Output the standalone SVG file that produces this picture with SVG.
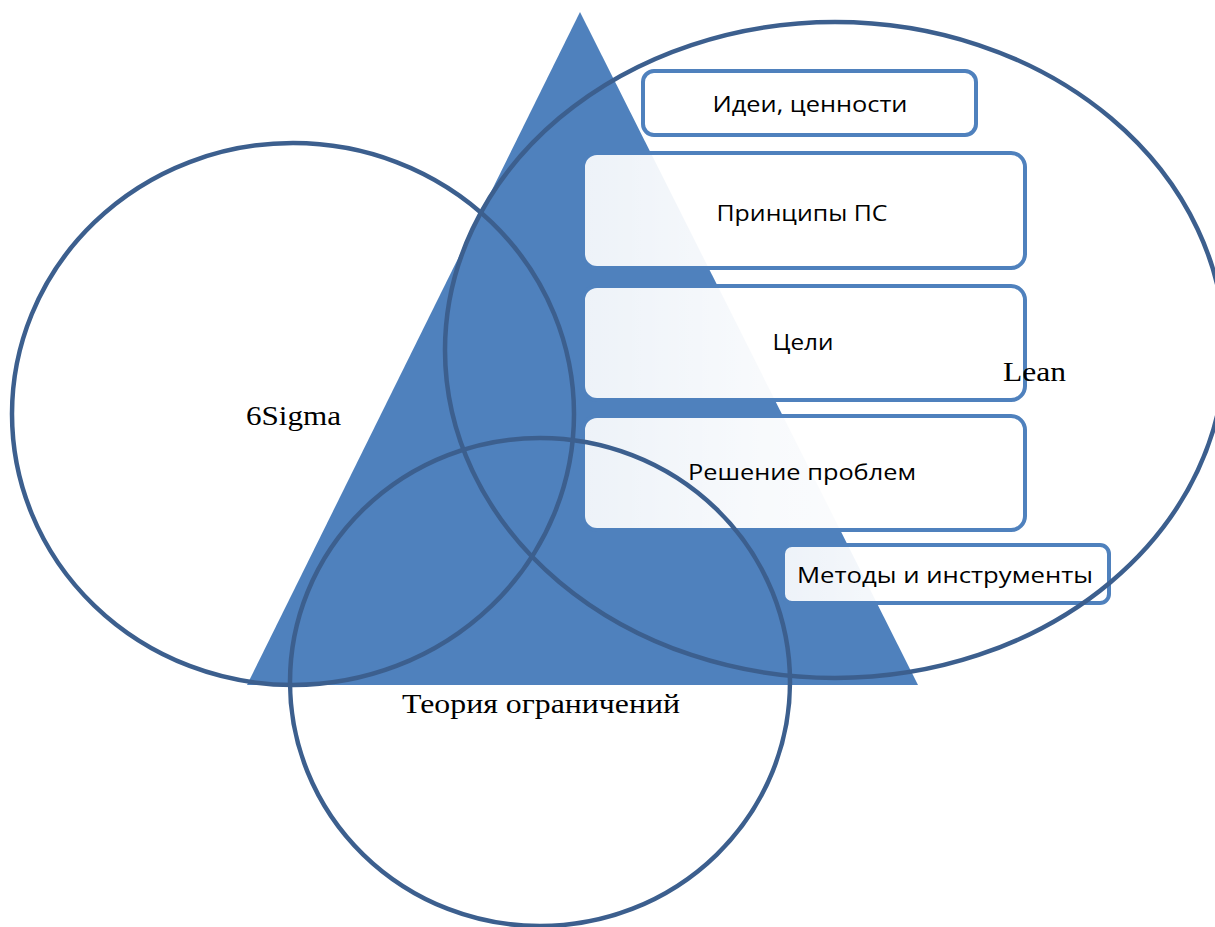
<svg xmlns="http://www.w3.org/2000/svg" width="1215" height="927" viewBox="0 0 1215 927">
<defs>
<linearGradient id="boxfill" x1="0" y1="0" x2="1" y2="0">
<stop offset="0" stop-color="#ffffff" stop-opacity="0.9"/>
<stop offset="0.4" stop-color="#ffffff" stop-opacity="0.96"/>
<stop offset="1" stop-color="#ffffff" stop-opacity="1"/>
</linearGradient>
<style>
.box{fill:url(#boxfill);stroke:#4F81BD;stroke-width:4}
.boxt{font-family:"Open Sans","Noto Sans","Liberation Sans",sans-serif;font-size:22px;fill:#000;text-anchor:middle}
.ring{fill:none;stroke:#3C5F8E;stroke-width:4.5}
.lbl{font-family:"Liberation Serif","Times New Roman",serif;font-size:28px;fill:#000}
</style>
</defs>
<rect width="1215" height="927" fill="#ffffff"/>
<g id="pyramid">
<polygon points="580,12 247,685 918,685" fill="#4F81BD"/>
</g>
<g id="box-ideas">
<rect class="box" x="643" y="71" width="333" height="64" rx="11" style="fill:#ffffff"/>
<text class="boxt" x="810" y="112" textLength="195" lengthAdjust="spacingAndGlyphs">Идеи, ценности</text>
</g>
<g id="box-principles">
<rect class="box" x="583" y="153" width="442" height="115" rx="14"/>
<text class="boxt" x="802" y="221" textLength="171" lengthAdjust="spacingAndGlyphs">Принципы ПС</text>
</g>
<g id="box-goals">
<rect class="box" x="583" y="286" width="442" height="114" rx="14"/>
<text class="boxt" x="803" y="350" textLength="61" lengthAdjust="spacingAndGlyphs">Цели</text>
</g>
<g id="box-problems">
<rect class="box" x="583" y="416" width="442" height="114" rx="14"/>
<text class="boxt" x="802" y="480" textLength="228" lengthAdjust="spacingAndGlyphs">Решение проблем</text>
</g>
<g id="box-methods">
<rect class="box" x="783" y="545" width="326" height="58" rx="9"/>
<text class="boxt" x="945" y="583" textLength="296" lengthAdjust="spacingAndGlyphs">Методы и инструменты</text>
</g>
<g id="sixsigma">
<ellipse class="ring" cx="293" cy="414" rx="281" ry="271"/>
<text class="lbl" x="246" y="425" textLength="95" lengthAdjust="spacingAndGlyphs">6Sigma</text>
</g>
<g id="lean">
<ellipse class="ring" cx="835" cy="350" rx="390" ry="328"/>
<text class="lbl" x="1003" y="381" textLength="63" lengthAdjust="spacingAndGlyphs">Lean</text>
</g>
<g id="toc">
<ellipse class="ring" cx="540" cy="682" rx="250" ry="244"/>
<text class="lbl" x="402" y="713" textLength="278" lengthAdjust="spacingAndGlyphs">Теория ограничений</text>
</g>
<g id="connectors"></g>
</svg>
